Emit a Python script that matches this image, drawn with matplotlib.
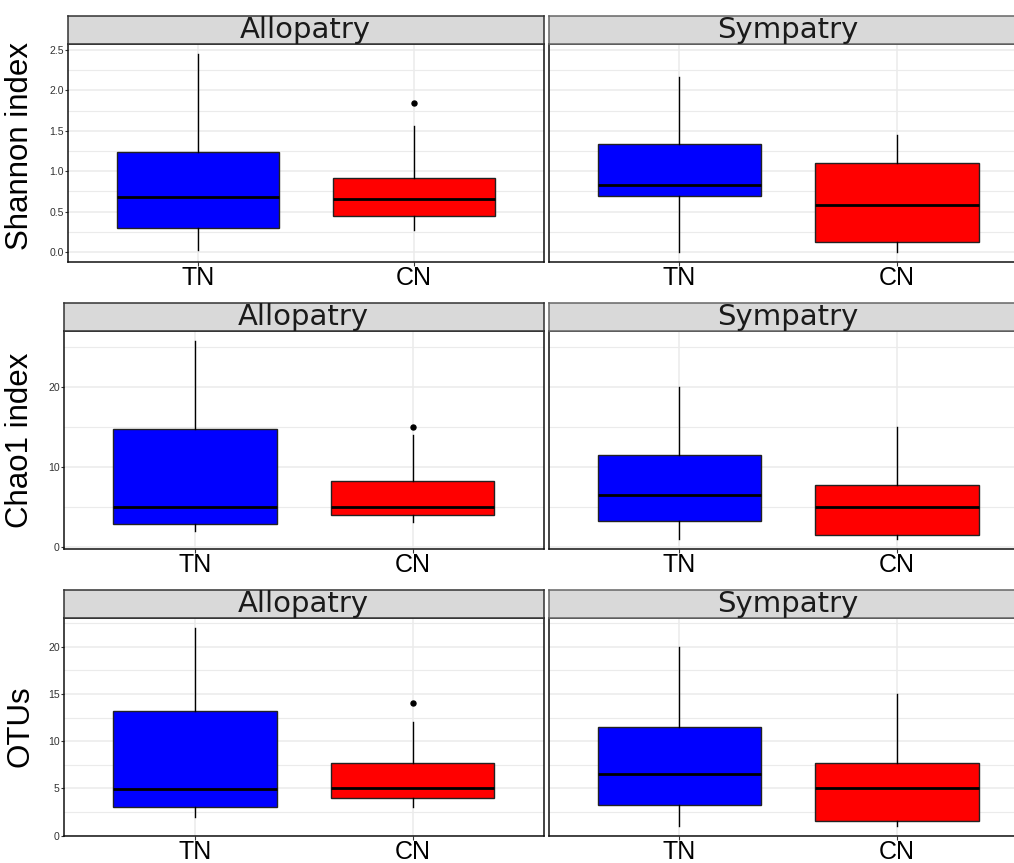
import matplotlib
matplotlib.use("Agg")
import matplotlib.pyplot as plt

# box statistics, order: [TN, CN]
groups = ["TN", "CN"]
sites = ["Allopatry", "Sympatry"]
metrics = ["Shannon index", "Chao1 index", "OTUs"]

shannon_allo_whislo = [0.03, 0.27]
shannon_allo_q1 = [0.30, 0.44]
shannon_allo_med = [0.68, 0.66]
shannon_allo_q3 = [1.235, 0.91]
shannon_allo_whishi = [2.45, 1.56]
shannon_allo_fliers = [[], [1.84]]

shannon_symp_whislo = [0.0, 0.0]
shannon_symp_q1 = [0.69, 0.12]
shannon_symp_med = [0.83, 0.58]
shannon_symp_q3 = [1.34, 1.10]
shannon_symp_whishi = [2.16, 1.45]
shannon_symp_fliers = [[], []]

chao_allo_whislo = [2.0, 3.1]
chao_allo_q1 = [2.9, 4.0]
chao_allo_med = [4.96, 5.0]
chao_allo_q3 = [14.8, 8.25]
chao_allo_whishi = [25.8, 14.0]
chao_allo_fliers = [[], [15.0]]

chao_symp_whislo = [1.0, 1.0]
chao_symp_q1 = [3.25, 1.5]
chao_symp_med = [6.5, 5.0]
chao_symp_q3 = [11.5, 7.75]
chao_symp_whishi = [20.0, 15.0]
chao_symp_fliers = [[], []]

otu_allo_whislo = [2.0, 3.0]
otu_allo_q1 = [3.0, 4.0]
otu_allo_med = [4.97, 5.0]
otu_allo_q3 = [13.2, 7.7]
otu_allo_whishi = [22.0, 12.0]
otu_allo_fliers = [[], [14.0]]

otu_symp_whislo = [1.0, 1.0]
otu_symp_q1 = [3.25, 1.5]
otu_symp_med = [6.5, 5.0]
otu_symp_q3 = [11.5, 7.7]
otu_symp_whishi = [20.0, 15.0]
otu_symp_fliers = [[], []]

shannon_ticks = [0.0, 0.5, 1.0, 1.5, 2.0, 2.5]
chao_ticks = [0, 10, 20]
otu_ticks = [0, 5, 10, 15, 20]
shannon_ticklabels = ["0.0", "0.5", "1.0", "1.5", "2.0", "2.5"]
chao_ticklabels = ["0", "10", "20"]
otu_ticklabels = ["0", "5", "10", "15", "20"]

box_colors = ["#0000FF", "#FF0000"]


def make_stats(whislo, q1, med, q3, whishi, fliers):
    out = []
    for i, g in enumerate(groups):
        out.append(dict(label=g, whislo=whislo[i], q1=q1[i], med=med[i],
                        q3=q3[i], whishi=whishi[i], fliers=fliers[i]))
    return out


data = {
    "Shannon index": [
        make_stats(shannon_allo_whislo, shannon_allo_q1, shannon_allo_med,
                   shannon_allo_q3, shannon_allo_whishi, shannon_allo_fliers),
        make_stats(shannon_symp_whislo, shannon_symp_q1, shannon_symp_med,
                   shannon_symp_q3, shannon_symp_whishi, shannon_symp_fliers)],
    "Chao1 index": [
        make_stats(chao_allo_whislo, chao_allo_q1, chao_allo_med,
                   chao_allo_q3, chao_allo_whishi, chao_allo_fliers),
        make_stats(chao_symp_whislo, chao_symp_q1, chao_symp_med,
                   chao_symp_q3, chao_symp_whishi, chao_symp_fliers)],
    "OTUs": [
        make_stats(otu_allo_whislo, otu_allo_q1, otu_allo_med,
                   otu_allo_q3, otu_allo_whishi, otu_allo_fliers),
        make_stats(otu_symp_whislo, otu_symp_q1, otu_symp_med,
                   otu_symp_q3, otu_symp_whishi, otu_symp_fliers)],
}
ticks = {"Shannon index": (shannon_ticks, shannon_ticklabels),
         "Chao1 index": (chao_ticks, chao_ticklabels),
         "OTUs": (otu_ticks, otu_ticklabels)}

W, H = 1014, 863
fig = plt.figure(figsize=(W / 100, H / 100), dpi=100)


def px_box(x0, y0, x1, y1):
    return [x0 / W, 1 - y1 / H, (x1 - x0) / W, (y1 - y0) / H]


# layout in pixels
panel_tops = [44, 331, 618]
panel_h = 218
strip_h = 28
left_x0 = [68, 64, 64]
left_x1 = 543.5
right_x0 = 548.5
right_x1 = 1028
title_y = [146, 440, 726]

for r, metric in enumerate(metrics):
    stats_pair = data[metric]
    vals = []
    for st in stats_pair:
        for s in st:
            vals += [s["whislo"], s["whishi"]] + list(s["fliers"])
    lo, hi = min(vals), max(vals)
    pad = 0.05 * (hi - lo)
    top = panel_tops[r]
    for c, site in enumerate(sites):
        x0 = left_x0[r] if c == 0 else right_x0
        x1 = left_x1 if c == 0 else right_x1
        ax = fig.add_axes(px_box(x0, top, x1, top + panel_h))
        bp = ax.bxp(stats_pair[c], positions=[1, 2], widths=0.75,
                    patch_artist=True, showcaps=False,
                    boxprops=dict(edgecolor="#222222", linewidth=1.0),
                    medianprops=dict(color="black", linewidth=2.0),
                    whiskerprops=dict(color="black", linewidth=1.0),
                    flierprops=dict(marker="o", markersize=3.6,
                                    markerfacecolor="black",
                                    markeredgecolor="black"))
        for patch, col in zip(bp["boxes"], box_colors):
            patch.set_facecolor(col)
        ax.set_xlim(0.4, 2.6)
        ax.set_ylim(lo - pad, hi + pad)
        tk, tl = ticks[metric]
        ax.set_yticks(tk)
        minor = [(a + b) / 2 for a, b in zip(tk[:-1], tk[1:])]
        if tk[-1] + (tk[1] - tk[0]) / 2 < hi + pad:
            minor.append(tk[-1] + (tk[1] - tk[0]) / 2)
        ax.set_yticks(minor, minor=True)
        ax.set_axisbelow(True)
        ax.grid(which="major", color="#EBEBEB", linewidth=1.1)
        ax.grid(which="minor", axis="y", color="#EBEBEB", linewidth=0.8)
        ax.set_xticks([1, 2])
        ax.set_xticklabels(groups, fontsize=18, family="Liberation Sans",
                           color="black")
        ax.tick_params(axis="x", length=3, width=0.8, pad=0.2, color="#333333")
        ax.tick_params(axis="y", which="minor", length=0)
        if c == 0:
            ax.set_yticklabels(tl, fontsize=7.6, family="Liberation Sans",
                               color="#333333")
            ax.tick_params(axis="y", length=2.5, width=0.8, pad=0.5,
                           color="#333333")
        else:
            ax.set_yticklabels([])
            ax.tick_params(axis="y", length=0)
        for sp in ax.spines.values():
            sp.set_color("#111111")
            sp.set_linewidth(1.1)

        # facet strip
        sax = fig.add_axes(px_box(x0, top - strip_h, x1, top))
        sax.set_facecolor("#D9D9D9")
        sax.set_xticks([])
        sax.set_yticks([])
        for sp in sax.spines.values():
            sp.set_color("#333333" if c == 0 else "#666666")
            sp.set_linewidth(1.1)
        sax.text(0.5, 0.2, site, transform=sax.transAxes, ha="center",
                 va="baseline", fontsize=21, family="DejaVu Sans",
                 color="#1A1A1A", clip_on=False)

    fig.text(20 / W, 1 - title_y[r] / H, metric, rotation=90, ha="center",
             va="center", fontsize=22.5, family="Liberation Sans")

fig.savefig("out.png", dpi=100)
